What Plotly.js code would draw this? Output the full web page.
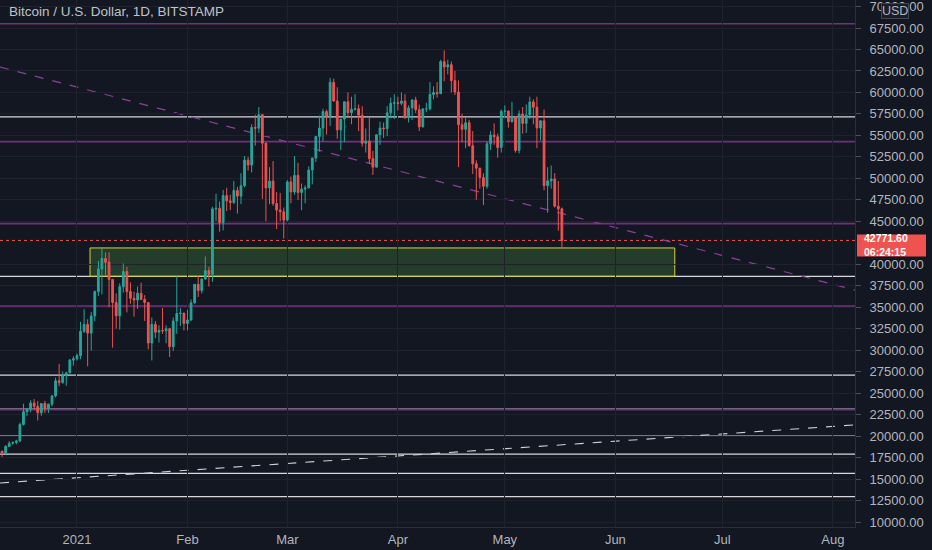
<!DOCTYPE html>
<html><head><meta charset="utf-8">
<script src="https://cdn.plot.ly/plotly-3.0.1.min.js"></script>
<style>html,body{margin:0;padding:0;background:#131722;}#chart{width:932px;height:550px;}</style>
</head><body><div id="chart"></div>
<script>
const dates = [
"2020-12-10","2020-12-11","2020-12-12","2020-12-13","2020-12-14","2020-12-15","2020-12-16","2020-12-17","2020-12-18","2020-12-19","2020-12-20","2020-12-21","2020-12-22","2020-12-23","2020-12-24","2020-12-25","2020-12-26","2020-12-27","2020-12-28","2020-12-29","2020-12-30","2020-12-31",
"2021-01-01","2021-01-02","2021-01-03","2021-01-04","2021-01-05","2021-01-06","2021-01-07","2021-01-08","2021-01-09","2021-01-10","2021-01-11","2021-01-12","2021-01-13","2021-01-14","2021-01-15","2021-01-16","2021-01-17","2021-01-18","2021-01-19","2021-01-20","2021-01-21","2021-01-22","2021-01-23","2021-01-24","2021-01-25","2021-01-26","2021-01-27","2021-01-28","2021-01-29","2021-01-30","2021-01-31",
"2021-02-01","2021-02-02","2021-02-03","2021-02-04","2021-02-05","2021-02-06","2021-02-07","2021-02-08","2021-02-09","2021-02-10","2021-02-11","2021-02-12","2021-02-13","2021-02-14","2021-02-15","2021-02-16","2021-02-17","2021-02-18","2021-02-19","2021-02-20","2021-02-21","2021-02-22","2021-02-23","2021-02-24","2021-02-25","2021-02-26","2021-02-27","2021-02-28",
"2021-03-01","2021-03-02","2021-03-03","2021-03-04","2021-03-05","2021-03-06","2021-03-07","2021-03-08","2021-03-09","2021-03-10","2021-03-11","2021-03-12","2021-03-13","2021-03-14","2021-03-15","2021-03-16","2021-03-17","2021-03-18","2021-03-19","2021-03-20","2021-03-21","2021-03-22","2021-03-23","2021-03-24","2021-03-25","2021-03-26","2021-03-27","2021-03-28","2021-03-29","2021-03-30","2021-03-31",
"2021-04-01","2021-04-02","2021-04-03","2021-04-04","2021-04-05","2021-04-06","2021-04-07","2021-04-08","2021-04-09","2021-04-10","2021-04-11","2021-04-12","2021-04-13","2021-04-14","2021-04-15","2021-04-16","2021-04-17","2021-04-18","2021-04-19","2021-04-20","2021-04-21","2021-04-22","2021-04-23","2021-04-24","2021-04-25","2021-04-26","2021-04-27","2021-04-28","2021-04-29","2021-04-30",
"2021-05-01","2021-05-02","2021-05-03","2021-05-04","2021-05-05","2021-05-06","2021-05-07","2021-05-08","2021-05-09","2021-05-10","2021-05-11","2021-05-12","2021-05-13","2021-05-14","2021-05-15","2021-05-16","2021-05-17"];

const open = [
18550,18250,18030,18800,19160,19270,19440,21350,22840,23110,23840,23470,22720,23800,23240,23720,24680,26440,26250,27040,27360,28840,
29000,29370,32190,33000,31990,33990,36820,39460,40670,40240,38240,35540,34000,37390,39150,36830,36050,35830,36630,35910,35540,30830,33000,32100,32290,32250,32500,30400,33400,34270,34320,
33110,33520,35510,37660,36940,38290,39260,38830,46450,46520,44840,47990,47380,47190,48580,47930,49150,52120,51550,55920,55840,57410,54090,48890,49680,47070,46310,46110,
45140,49590,48420,50350,48360,48750,48880,50970,52370,54880,55850,57770,57220,61180,59000,55640,56900,58910,57650,58030,58100,57350,54090,54340,52300,51300,55070,55860,55780,57630,58740,
58800,58730,58990,57060,58200,59130,57990,56000,58080,58090,59770,59980,59860,63580,62960,63220,61380,60050,56250,55710,56470,53800,51700,51190,50100,49070,54020,55040,54840,53580,
57800,57830,56600,57200,53250,57480,56400,57380,58900,58280,55860,56700,49150,49710,49920,46760,46450];
const high = [
18560,18270,18940,19400,19350,19570,21560,23770,23280,24170,24300,24100,23820,24100,23780,24770,26800,28400,27500,27400,28990,29300,
29600,33300,34780,33600,34450,36950,40400,41950,41370,41400,38240,36600,37780,40100,39700,37900,36800,37400,37850,36400,35600,33800,33400,32900,34900,32900,32600,33800,38600,34900,34300,
34700,35900,37700,38700,38300,40900,39700,46700,48200,47300,48650,48900,48100,49700,49000,50600,52600,52500,56300,57400,58300,57500,54200,51300,52000,48400,48300,46600,
49800,50200,52600,51800,49400,49200,51400,52400,54900,57300,58100,58000,61700,61600,60600,56900,58900,60000,59500,59800,58600,58400,55800,57200,53200,55100,56600,56500,58400,59400,59800,
59500,60000,59800,58500,59200,59500,58600,58200,58800,61200,60700,61200,63800,64900,63800,63600,62500,61400,57500,57000,56800,55500,52100,51200,50600,54300,55500,56400,55200,58000,
58500,57900,58900,57200,57900,58300,58600,59500,59200,59500,56800,58000,51300,51500,50600,49700,46600];
const low = [
17910,17580,18020,18730,19000,19050,19300,21240,22350,22770,23060,21820,22360,22700,22700,23450,24500,25800,26100,25860,27320,28200,
28800,28950,32010,28130,29950,33390,36300,36500,38700,35000,30300,32500,32400,36700,34400,35400,33900,34800,35900,33400,30100,28800,31400,30900,31900,30800,29200,29900,31900,32800,32300,
32300,33400,35400,36200,36600,38200,37400,37950,45000,43800,43950,46200,46300,47000,45900,47000,48950,50900,50700,53800,55300,47600,45000,47000,46800,44100,45000,43000,
45000,47100,48100,47500,46300,47100,48900,49300,51900,53100,54300,55100,56100,58900,54600,53300,54200,57000,56300,57900,55500,53700,53000,51700,50400,51300,53900,54700,54900,57000,56900,
57900,58500,56900,56500,56800,57600,55500,55900,57700,57900,59200,59400,59800,61300,62100,60000,59700,51300,54200,53500,53700,50500,47500,48800,46900,48800,53300,53900,52400,53000,
57000,55900,56500,53000,52900,55200,55300,56900,56300,53500,54400,48600,46000,48800,46600,43900,42000];
const close = [
18250,18030,18800,19160,19270,19440,21350,22840,23110,23840,23470,22720,23800,23240,23720,24680,26440,26250,27040,27360,28840,29000,
29370,32190,33000,31990,33990,36820,39460,40670,40240,38240,35540,34000,37390,39150,36830,36050,35830,36630,35910,35540,30830,33000,32100,32290,32250,32500,30400,33400,34270,34320,33110,
33520,35510,37660,36940,38290,39260,38830,46450,46520,44840,47990,47380,47190,48580,47930,49150,52120,51550,55920,55840,57410,54090,48890,49680,47070,46310,46110,45140,
49590,48420,50350,48360,48750,48880,50970,52370,54880,55850,57770,57220,61180,59000,55640,56900,58910,57650,58030,58100,57350,54090,54340,52300,51300,55070,55860,55780,57630,58740,58800,
58730,58990,57060,58200,59130,57990,56000,58080,58090,59770,59980,59860,63580,62960,63220,61380,60050,56250,55710,56470,53800,51700,51190,50100,49070,54020,55040,54840,53580,57800,
57830,56600,57200,53250,57480,56400,57380,58900,58280,55860,56700,49150,49710,49920,46760,46450,42771.6];

// drawn horizontal levels
const whiteLevels = [57150, 38600, 27100, 23150, 20000, 17900, 15650, 12950];
const purpleLevels = [68000, 54270, 44730, 35150, 23080];
const lastPrice = 42771.6;
const lastPriceText = "42771.60";
const countdownText = "06:24:15";
const zoneX = ["2021-01-04 16:00", "2021-06-17 16:00"];
const zoneY = [38600, 41900];
const trendPurple = {x: ["2020-12-10 10:00", "2021-08-07 05:00"], y: [62960, 37000]};
const trendWhite = {x: ["2020-12-10 10:00", "2021-08-07 05:00"], y: [14540, 21300]};

const tickDates = ["2021-01-01","2021-02-01","2021-03-01","2021-04-01","2021-05-01","2021-06-01","2021-07-01","2021-08-01"];
const tickText = ["2021","Feb","Mar","Apr","May","Jun","Jul","Aug"];
const yTicks = [10000,12500,15000,17500,20000,22500,25000,27500,30000,32500,35000,37500,40000,45000,47500,50000,52500,55000,57500,60000,62500,65000,67500,70000];
const yTickText = yTicks.map(v => v.toFixed(2));

const shapes = [];
whiteLevels.forEach(v => shapes.push({type:'line', xref:'paper', x0:0, x1:1, yref:'y', y0:v, y1:v, line:{color:'#d8d8dc', width:1.3}, layer:'below'}));
purpleLevels.forEach(v => shapes.push({type:'line', xref:'paper', x0:0, x1:1, yref:'y', y0:v, y1:v, line:{color:'#73307f', width:1.6}, layer:'below'}));
shapes.push({type:'rect', xref:'x', yref:'y', x0:zoneX[0], x1:zoneX[1], y0:zoneY[0], y1:zoneY[1], fillcolor:'rgba(76,140,60,0.32)', line:{color:'#d6d23a', width:1}, layer:'below'});
shapes.push({type:'line', xref:'x', yref:'y', x0:trendPurple.x[0], x1:trendPurple.x[1], y0:trendPurple.y[0], y1:trendPurple.y[1], line:{color:'#8e3f9a', width:1.2, dash:'dash'}, layer:'below'});
shapes.push({type:'line', xref:'x', yref:'y', x0:trendWhite.x[0], x1:trendWhite.x[1], y0:trendWhite.y[0], y1:trendWhite.y[1], line:{color:'#d0d0d4', width:1.1, dash:'dash'}, layer:'below'});
shapes.push({type:'line', xref:'paper', x0:0, x1:1, yref:'y', y0:lastPrice, y1:lastPrice, line:{color:'#ef5350', width:1, dash:'dot'}, layer:'below'});
// price label box on the axis
shapes.push({type:'rect', xref:'paper', xsizemode:'pixel', xanchor:1, x0:2, x1:71, yref:'y', ysizemode:'pixel', yanchor:lastPrice, y0:-16, y1:6, fillcolor:'#ef5350', line:{width:0}, layer:'above'});

const trace = {
  type:'candlestick', x:dates, open:open, high:high, low:low, close:close,
  increasing:{line:{color:'#26a69a', width:1}, fillcolor:'#26a69a'},
  decreasing:{line:{color:'#ef5350', width:1}, fillcolor:'#ef5350'},
  whiskerwidth:0, hoverinfo:'skip'
};

const axisFont = {family:'Liberation Sans, Arial, sans-serif', size:13, color:'#b2b5be'};

const layout = {
  width:932, height:550,
  margin:{l:0, r:77, t:0, b:23},
  paper_bgcolor:'#131722', plot_bgcolor:'#131722',
  showlegend:false,
  font:{family:'Liberation Sans, Arial, sans-serif', color:'#b2b5be', size:12},
  xaxis:{type:'date', range:['2020-12-10 10:00','2021-08-07 05:00'], rangeslider:{visible:false},
    tickmode:'array', tickvals:tickDates, ticktext:tickText, showgrid:true, gridcolor:'#1e222d',
    showline:true, linecolor:'#2a2e39', ticks:'', tickfont:axisFont, zeroline:false, fixedrange:true},
  yaxis:{side:'right', range:[9418,70760], tickmode:'array', tickvals:yTicks, ticktext:yTickText,
    showgrid:true, gridcolor:'#1e222d', showline:true, linecolor:'#2a2e39', ticks:'outside', ticklen:5, tickcolor:'#4a4f5b',
    ticklabelstandoff:6, ticklabeloverflow:'allow', tickfont:axisFont, zeroline:false, fixedrange:true},
  shapes:shapes,
  annotations:[
    {xref:'paper', yref:'paper', x:0, y:1, xanchor:'left', yanchor:'middle', xshift:7, yshift:-11, showarrow:false,
     text:'Bitcoin / U.S. Dollar, 1D, BITSTAMP', font:{size:13.5, color:'#bfc2c9'}},
    {xref:'paper', yref:'paper', x:1, y:1, xanchor:'center', yanchor:'middle', xshift:39.5, yshift:-11, showarrow:false,
     text:'USD', font:{size:12.5, color:'#b2b5be'}, bgcolor:'#1a1e29', bordercolor:'#434651', borderwidth:1, borderpad:0},
    {xref:'paper', yref:'y', x:1, y:lastPrice, xanchor:'left', yanchor:'middle', xshift:8, yshift:-5, showarrow:false,
     align:'left', borderpad:0, text:'<b>' + lastPriceText + '<br>' + countdownText + '</b>', font:{size:10.5, color:'#ffffff'}}
  ]
};

Plotly.newPlot('chart', [trace], layout, {displayModeBar:false, staticPlot:true});
</script>
</body></html>
